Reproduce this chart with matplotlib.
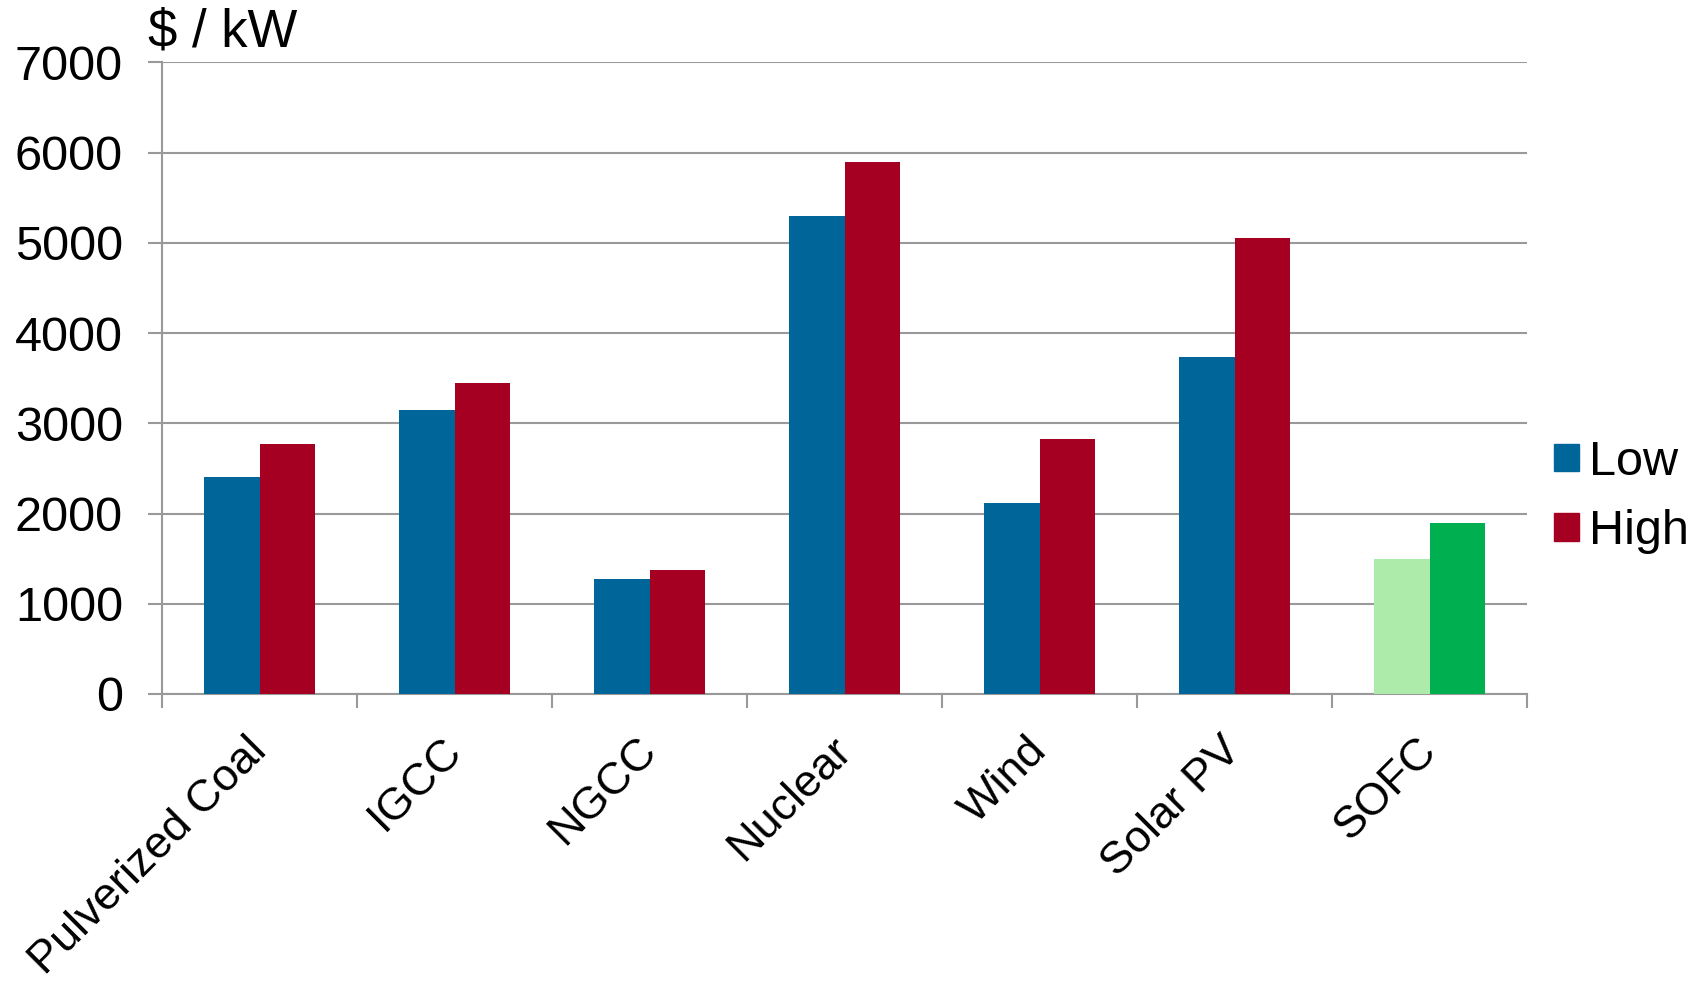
import matplotlib
matplotlib.use("Agg")
import matplotlib.pyplot as plt
import matplotlib.transforms as mtransforms
import numpy as np
from matplotlib.patches import Patch

categories = ["Pulverized Coal", "IGCC", "NGCC", "Nuclear", "Wind", "Solar PV", "SOFC"]
low = [2400, 3150, 1275, 5300, 2120, 3730, 1500]
high = [2770, 3450, 1370, 5900, 2830, 5050, 1900]
y_ticks = [0, 1000, 2000, 3000, 4000, 5000, 6000, 7000]

BLUE = "#006699"
RED = "#A50021"
LIGHT_GREEN = "#ADEBAA"
GREEN = "#00B050"
GRID = "#999999"
FS = 35

plt.rcParams["font.family"] = ["Liberation Sans", "DejaVu Sans"]

fig = plt.figure(figsize=(17, 9.9), dpi=100)
ax = fig.add_axes([0.0953, 0.299, 0.803, 0.638])

x = np.arange(len(categories))
w = 0.285
low_colors = [BLUE] * (len(categories) - 1) + [LIGHT_GREEN]
high_colors = [RED] * (len(categories) - 1) + [GREEN]
ax.bar(x - w / 2, low, w, color=low_colors, zorder=3)
ax.bar(x + w / 2, high, w, color=high_colors, zorder=3)

ax.set_xlim(-0.5, len(categories) - 0.5)
ax.set_ylim(0, 7000)
ax.set_yticks(y_ticks)
ax.set_yticklabels([str(v) for v in y_ticks], fontsize=FS)
ax.yaxis.grid(True, color=GRID, linewidth=1.5, zorder=0)

ax.set_xticks(x)
ax.set_xticklabels(categories, fontsize=32.5, rotation=45, ha="right",
                   va="top", rotation_mode="anchor")
ax.set_xticks(np.arange(-0.5, len(categories)), minor=True)
ax.tick_params(axis="x", which="major", length=0, pad=22)
ax.tick_params(axis="x", which="minor", length=10, width=1.5, color=GRID)
ax.tick_params(axis="y", length=10, width=1.5, color=GRID, pad=18)

# nudge the slanted labels a little left and down
shift = mtransforms.ScaledTranslation(-14 / 100, -5 / 100, fig.dpi_scale_trans)
for lbl in ax.get_xticklabels():
    lbl.set_transform(lbl.get_transform() + shift)

for side in ["top", "right"]:
    ax.spines[side].set_visible(False)
for side in ["left", "bottom"]:
    ax.spines[side].set_color(GRID)
    ax.spines[side].set_linewidth(1.5)

fig.text(0.087, 0.942, "$ / kW", fontsize=38, ha="left", va="bottom")

handles = [Patch(color=BLUE, label="Low"), Patch(color=RED, label="High")]
fig.legend(handles=handles, loc="center left", bbox_to_anchor=(0.8885, 0.498),
           frameon=False, fontsize=FS, handlelength=0.5, handleheight=0.5,
           handletextpad=0.22, labelspacing=0.5)

fig.savefig("out.png", dpi=100, facecolor="white")
